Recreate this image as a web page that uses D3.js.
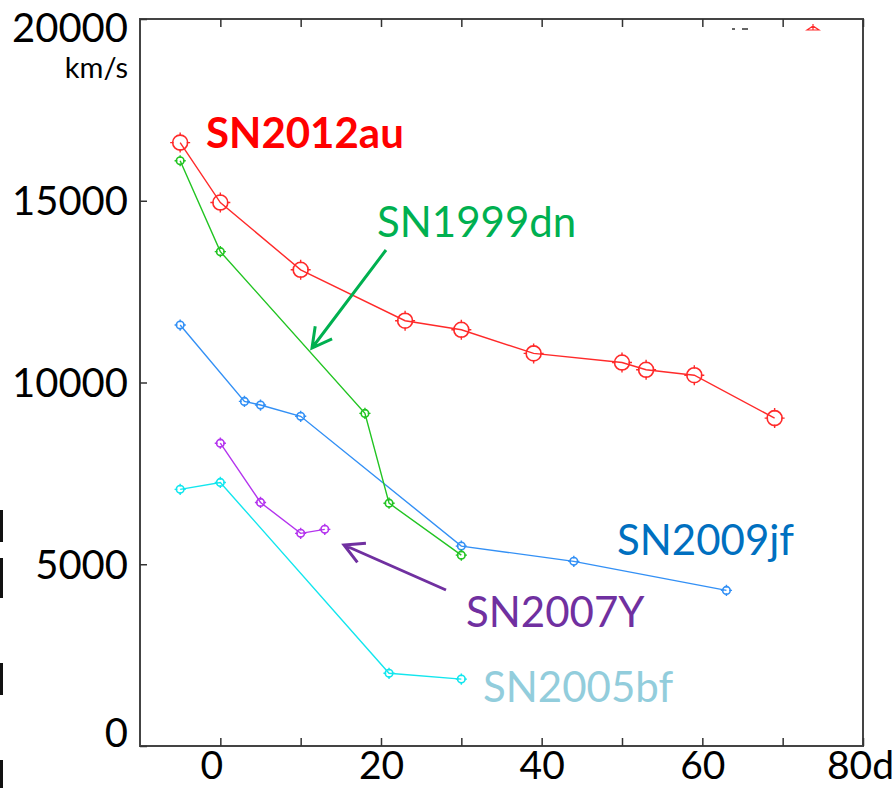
<!DOCTYPE html>
<html>
<head>
<meta charset="utf-8">
<script src="https://cdn.jsdelivr.net/npm/d3@7"></script>
<style>
  body { margin: 0; background: #fff; }
  text { font-family: Lato, "Open Sans", sans-serif; }
</style>
</head>
<body>
<svg></svg>
<script>
// days since maximum / velocity in km/s
let sn2012auDays = [-5, 0, 10, 23, 30, 39, 50, 53, 59, 69];
let sn2012auVel = [16600, 14950, 13100, 11700, 11450, 10800, 10550, 10350, 10200, 9020];
let sn1999dnDays = [-5, 0, 18, 21, 30];
let sn1999dnVel = [16100, 13600, 9150, 6680, 5250];
let sn2009jfDays = [-5, 3, 5, 10, 30, 44, 63];
let sn2009jfVel = [11580, 9480, 9380, 9070, 5500, 5080, 4280];
let sn2007yDays = [0, 5, 10, 13];
let sn2007yVel = [8330, 6700, 5850, 5960];
let sn2005bfDays = [-5, 0, 21, 30];
let sn2005bfVel = [7060, 7250, 2000, 1840];

let xTicks = [0, 10, 20, 30, 40, 50, 60, 70, 80];
let xLabels = {0: "0", 20: "20", 40: "40", 60: "60", 80: "80d"};
let yTicks = [0, 5000, 10000, 15000, 20000];

let width = 894;
let height = 788;
let pLeft = 140, pRight = 863, pTop = 19, pBottom = 746;

let svg = d3.select("svg").attr("width", width).attr("height", height);

let xScale = d3.scaleLinear().domain([-10, 80]).range([pLeft, pRight]);
let yScale = d3.scaleLinear().domain([0, 20000]).range([pBottom, pTop]);

// stray marks at the slide's left edge
[[510, 542], [558, 598], [663, 695], [760, 788]].forEach(b => {
    svg.append("rect").attr("x", 0).attr("y", b[0]).attr("width", 3).attr("height", b[1] - b[0]).attr("fill", "#111");
});

// frame
svg.append("rect")
    .attr("x", pLeft).attr("y", pTop)
    .attr("width", pRight - pLeft).attr("height", pBottom - pTop)
    .attr("fill", "none").attr("stroke", "#444").attr("stroke-width", 2);

// bottom axis (inward ticks)
let xAxis = d3.axisBottom(xScale).tickValues(xTicks).tickSize(-8).tickSizeOuter(0)
    .tickFormat(d => xLabels[d] || "");
let gx = svg.append("g").attr("transform", "translate(0," + pBottom + ")").call(xAxis);
gx.select(".domain").remove();
gx.selectAll("line").attr("stroke", "#333").attr("stroke-width", 1.5);
gx.selectAll("text").attr("font-size", 39).attr("fill", "#000").attr("y", 4)
    .attr("dy", "0.75em")
    .attr("dx", d => d == 0 ? -9 : (d == 80 ? -3 : 0));

// top ticks
let gt = svg.append("g").attr("transform", "translate(0," + pTop + ")")
    .call(d3.axisTop(xScale).tickValues(xTicks).tickSize(-8).tickSizeOuter(0).tickFormat(""));
gt.select(".domain").remove();
gt.selectAll("line").attr("stroke", "#333").attr("stroke-width", 1.5);

// left axis
let yAxis = d3.axisLeft(yScale).tickValues(yTicks).tickSize(-7).tickSizeOuter(0).tickFormat(d3.format("d"));
let gy = svg.append("g").attr("transform", "translate(" + pLeft + ",0)").call(yAxis);
gy.select(".domain").remove();
gy.selectAll("line").attr("stroke", "#333").attr("stroke-width", 1.5);
gy.selectAll("text").attr("font-size", 40).attr("fill", "#000").attr("x", -12)
    .attr("dy", d => d == 0 ? "0.0em" : (d == 20000 ? "0.55em" : "0.35em"));

svg.append("text").attr("x", 128).attr("y", 78).attr("text-anchor", "end")
    .attr("font-size", 29).text("km/s");

// series
let drawSeries = (days, vel, color, r, tick) => {
    let pts = days.map((d, i) => [d, vel[i]]);
    let line = d3.line().x(p => xScale(p[0])).y(p => yScale(p[1]));
    svg.append("path").datum(pts).attr("d", line)
        .attr("fill", "none").attr("stroke", color).attr("stroke-width", 1.4);
    let g = svg.append("g");
    pts.forEach(p => {
        let cx = xScale(p[0]), cy = yScale(p[1]);
        g.append("circle").attr("cx", cx).attr("cy", cy).attr("r", r)
            .attr("fill", "none").attr("stroke", color).attr("stroke-width", 1.6);
        g.append("path")
            .attr("d", `M${cx},${cy - r - tick}V${cy - r + 1}M${cx},${cy + r - 1}V${cy + r + tick}` +
                       `M${cx - r - tick},${cy}H${cx - r + 1}M${cx + r - 1},${cy}H${cx + r + tick}`)
            .attr("stroke", color).attr("stroke-width", 1.4);
    });
};

drawSeries(sn2005bfDays, sn2005bfVel, "#12e6ee", 3.8, 1.8);
drawSeries(sn2007yDays, sn2007yVel, "#b434ee", 3.8, 1.8);
drawSeries(sn2009jfDays, sn2009jfVel, "#3390f5", 3.8, 1.8);
drawSeries(sn1999dnDays, sn1999dnVel, "#22c422", 3.8, 1.8);
drawSeries(sn2012auDays, sn2012auVel, "#ff2a2a", 7.5, 2.5);

// clipped mark at the top edge
svg.append("path").attr("d", "M807,30L813,26L819,30Z M813,24V30")
    .attr("fill", "none").attr("stroke", "#ff2a2a").attr("stroke-width", 1.2);
svg.append("path").attr("d", "M732,29H735M742,29H748")
    .attr("stroke", "#333").attr("stroke-width", 1.5);

// labels
let labels = [
    {t: "SN2012au", x: 206, y: 148, c: "#ff0000", w: "bold"},
    {t: "SN1999dn", x: 377, y: 237, c: "#00b050", w: "normal"},
    {t: "SN2009jf", x: 617, y: 555, c: "#0070c0", w: "normal"},
    {t: "SN2007Y", x: 466, y: 627, c: "#7030a0", w: "normal"},
    {t: "SN2005bf", x: 483, y: 702, c: "#92cddc", w: "normal"}
];
labels.forEach(l => {
    svg.append("text").attr("x", l.x).attr("y", l.y).attr("fill", l.c)
        .attr("font-size", 42).attr("font-weight", l.w).text(l.t);
});

// arrows
let arrow = (x1, y1, x2, y2, color) => {
    let a = Math.atan2(y2 - y1, x2 - x1);
    let len = 22, sp = 0.5;
    svg.append("path")
        .attr("d", `M${x1},${y1}L${x2},${y2}` +
            `M${x2 - len * Math.cos(a - sp)},${y2 - len * Math.sin(a - sp)}L${x2},${y2}` +
            `L${x2 - len * Math.cos(a + sp)},${y2 - len * Math.sin(a + sp)}`)
        .attr("fill", "none").attr("stroke", color).attr("stroke-width", 3);
};
arrow(386, 250, 312, 348, "#00b050");
arrow(446, 590, 344, 545, "#7030a0");
</script>
</body>
</html>
